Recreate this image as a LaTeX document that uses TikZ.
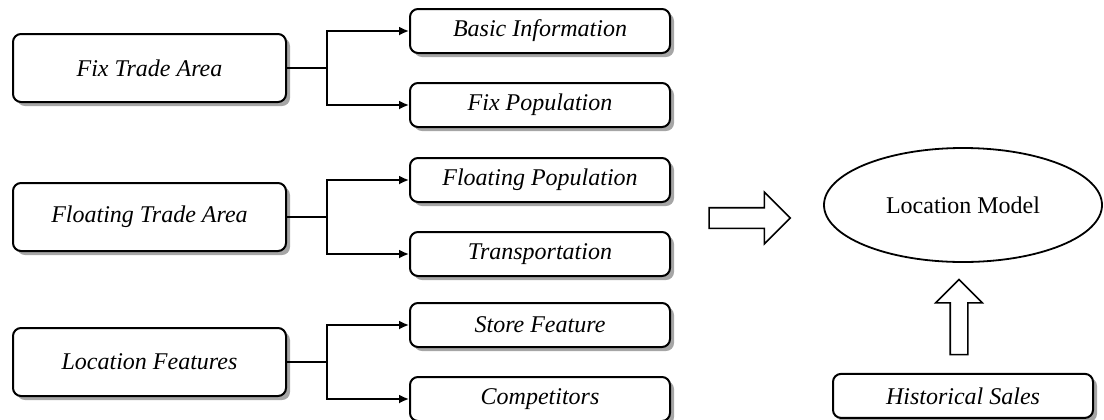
\documentclass[tikz,border=0pt]{standalone}
\usepackage{fontspec}
\setmainfont{Liberation Serif}
\usetikzlibrary{shapes.geometric, shapes.arrows, arrows.meta, positioning, shadows}

\begin{document}
\begin{tikzpicture}[
    x=0.5pt, y=-0.5pt,
    group/.style={rectangle, rounded corners=4pt, draw, line width=1pt, minimum width=136.5pt, minimum height=34pt, align=center, font=\fontsize{12}{14}\selectfont\itshape, fill=white, drop shadow={shadow xshift=2pt, shadow yshift=-2pt, fill=black!35, opacity=1}},
    item/.style={group, minimum width=130pt, minimum height=22pt},
    arr/.style={-{Latex[length=5pt, width=4.5pt]}, line width=0.9pt},
    blockarr/.style={single arrow, draw, line width=0.8pt, fill=white, inner sep=0pt, single arrow tip angle=90}
]
\useasboundingbox (0,0) rectangle (1104,419);

% trade areas on the left
\node[group] (fixarea) at (149.5,68) {Fix Trade Area};
\node[group, below=39.5pt of fixarea]  (floatarea) {Floating Trade Area};
\node[group, below=37.5pt of floatarea] (locfeat)  {Location Features};

\node[item, above right=7pt and 61pt of fixarea.east]   (basicinfo) {Basic Information};
\node[item, below right=7pt and 61pt of fixarea.east]   (fixpop)    {Fix Population};
\node[item, above right=7pt and 61pt of floatarea.east] (floatpop)  {Floating Population};
\node[item, below right=7pt and 61pt of floatarea.east] (transport) {Transportation};
\node[item, above right=7pt and 61pt of locfeat.east]   (store)     {Store Feature};
\node[item, below right=7pt and 61pt of locfeat.east]   (compet)    {Competitors};

\draw[arr] (fixarea.east)   -- ++(20pt,0) |- (basicinfo.west);
\draw[arr] (fixarea.east)   -- ++(20pt,0) |- (fixpop.west);
\draw[arr] (floatarea.east) -- ++(20pt,0) |- (floatpop.west);
\draw[arr] (floatarea.east) -- ++(20pt,0) |- (transport.west);
\draw[arr] (locfeat.east)   -- ++(20pt,0) |- (store.west);
\draw[arr] (locfeat.east)   -- ++(20pt,0) |- (compet.west);

% model and sales
\node[ellipse, draw, line width=0.9pt, inner sep=0pt, minimum width=139pt, minimum height=57pt, font=\fontsize{12}{14}\selectfont] (model) at (963,205) {Location Model};
\node[item, below=55pt of model] (sales) {Historical Sales};

\node[blockarr, minimum height=40.5pt, single arrow head extend=7.75pt, inner ysep=4.75pt] (toright) at (744.5,218) {};
\node[blockarr, shape border rotate=90, minimum height=37.5pt, single arrow head extend=7.25pt, inner xsep=4pt] (toup) at (959,321.5) {};
\end{tikzpicture}
\end{document}
